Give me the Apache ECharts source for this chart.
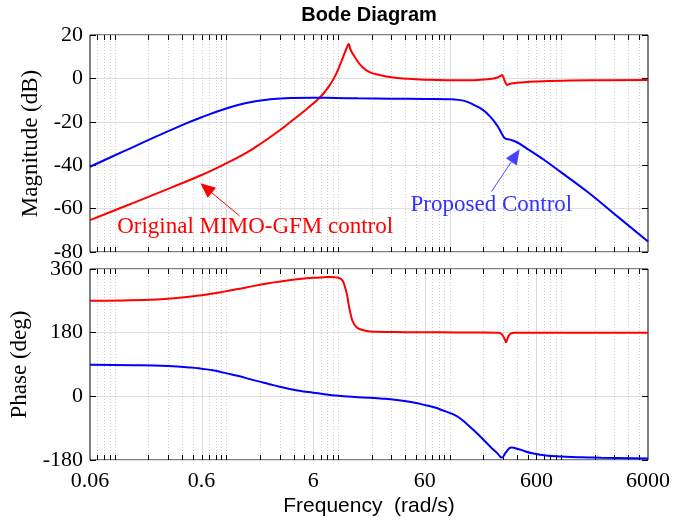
<!DOCTYPE html>
<html><head><meta charset="utf-8">
<script src="https://cdn.jsdelivr.net/npm/echarts@6/dist/echarts.min.js"></script>
<style>html,body{margin:0;padding:0;background:#fff}#c{width:692px;height:523px}</style>
</head><body><div id="c"></div>
<script>
// ---------- data (frequency in rad/s) ----------
const magRedFreq = [0.06,0.0951,0.151,0.239,0.379,0.6,0.951,1.507,1.897,2.39,3.01,3.79,4.77,6.0,6.73,7.55,8.47,9.51,10.67,11.44,11.97,12.47,12.97,14.1,16.4,19.0,23.9,30.1,42.5,60,95,151,190,239,268,287,294,301,311,322,330,345,379,425,600,1197,2390,6000];
const magRed     = [-65.3,-61.2,-57.1,-53.0,-48.8,-44.5,-39.7,-34.3,-31.1,-27.6,-23.9,-19.9,-15.8,-11.6,-9.3,-6.5,-3.0,1.5,7.5,11.5,14.0,15.9,13.2,10,5.4,3.0,1.5,0.5,-0.2,-0.6,-0.8,-0.8,-0.6,-0.2,0.4,1.2,1.6,1.0,-1.0,-2.6,-3.0,-2.6,-2.2,-1.9,-1.4,-1.0,-0.85,-0.7];

const magBlueFreq = [0.06,0.0951,0.151,0.239,0.379,0.6,0.951,1.507,2.39,3.79,6.0,9.51,15.1,30,60,100,120,142,170,200,225,246,265,282,300,313,330,346,397,450,523,700,1000,1740,3350,6000];
const magBlue     = [-40.7,-36.0,-31.3,-26.6,-22.1,-17.9,-14.2,-11.3,-9.7,-9.0,-8.9,-9.05,-9.2,-9.35,-9.45,-9.6,-9.9,-10.7,-12.5,-14.6,-17,-19.2,-21.5,-23.8,-26.3,-27.6,-28.0,-28.2,-29.3,-31.0,-33.2,-37.5,-43.3,-52.5,-64.5,-75.2];

const phRedFreq = [0.06,0.12,0.239,0.379,0.6,0.951,1.507,2.39,3.79,6.0,7.55,8.5,9.5,10.4,11.0,11.4,12.0,12.5,13.0,13.6,14.5,15.6,18,21.5,40,84.8,150,270,290,305,315,321,328,340,355,380,1000,6000];
const phRed     = [270,271,274,278.5,286,296,308,319.5,329,335,336.8,337.5,336.3,333.7,327,315,290,258,232,211,197,190.4,185,182.8,181.5,181,180.5,180,177,168,158,153,160,172,178,180,180,180];

const phBlueFreq = [0.06,0.151,0.30,0.477,0.6,0.755,0.951,1.197,1.507,1.897,2.39,3.01,3.79,4.77,6.0,7.55,9.51,15.1,23.9,33.7,47.7,60,75.5,84.8,107,124,147,176,232,270,293,323,358,418,550,757,1545,2270,6000];
const phBlue     = [89,88,85.5,81.5,78,73.5,67,59.5,51.5,43,35,27,20,14.5,10.3,6,2.2,-2.5,-6.2,-10.3,-17.5,-24.5,-32.5,-38.6,-50.5,-62,-82,-104.5,-142.4,-162,-173,-156.5,-145,-149.7,-161,-167.8,-172.5,-173.4,-176];

const xTickLabels = ['0.06','0.6','6','60','600','6000'];
const magTicks = {min:-80, max:20, step:20};
const phTicks  = {min:-180, max:360, step:180};
const topMajorGrid = [1, 100];
const botMajorGrid = [0.6, 6, 60, 600];

// annotations [freq, dB]: arrow tail -> tip
const redArrow  = {from:[1.315,-63.4], to:[0.585,-48.3]};
const blueArrow = {from:[237,-52.2], to:[425,-32.7]};
const redLabel  = {at:[1.812,-68.5], text:'Original MIMO-GFM control'};
const blueLabel = {at:[237,-58.3], text:'Proposed Control'};

// ---------- helpers ----------
const F0 = 0.06;
const lx = f => Math.log10(f / F0);
const pts = (fs, vs) => fs.map((f,i)=>[lx(f), vs[i]]);
const minorVals = [];
for (let k=-2;k<=3;k++) for (let n=1;n<=9;n++){ const v=+(n*Math.pow(10,k)).toPrecision(6); if(v>0.0601 && v<5999) minorVals.push(v); }
function gridData(majors){
  const all = minorVals.slice();
  majors.forEach(m=>{ if(!all.some(v=>Math.abs(v-m)/m<1e-6)) all.push(m); });
  return all.map(v=>[lx(v), majors.some(m=>Math.abs(v-m)/m<1e-6)?1:0]);
}
function gridSeries(xi, yi, yr, majors){
  return {
    type:'custom', xAxisIndex:xi, yAxisIndex:yi, silent:true, z:1, clip:false,
    data: gridData(majors),
    renderItem(params, api){
      const x = api.value(0), major = api.value(1);
      const p0 = api.coord([x, yr.min]), p1 = api.coord([x, yr.max]);
      const px = Math.round(p0[0]) + 0.5;
      const y0 = Math.round(p0[1]), y1 = Math.round(p1[1]);
      return {type:'group', children:[
        {type:'line', shape:{x1:px,y1:y0,x2:px,y2:y1}, style:{stroke: major?'#dcdcdc':'#cccccc', lineWidth:1, lineDash: major?null:[1,2]}},
        {type:'line', shape:{x1:px,y1:y0,x2:px,y2:y0-5}, style:{stroke:'#000', lineWidth:1}},
        {type:'line', shape:{x1:px,y1:y1,x2:px,y2:y1+5}, style:{stroke:'#000', lineWidth:1}}
      ]};
    }
  };
}
function arrowSeries(arrow, lineColor, headColor){
  return {
    type:'custom', xAxisIndex:0, yAxisIndex:0, silent:true, z:5, clip:false,
    data:[[lx(arrow.from[0]), arrow.from[1], lx(arrow.to[0]), arrow.to[1]]],
    renderItem(params, api){
      const a = api.coord([api.value(0), api.value(1)]);
      const b = api.coord([api.value(2), api.value(3)]);
      const dx = b[0]-a[0], dy = b[1]-a[1], L = Math.hypot(dx,dy);
      const ux = dx/L, uy = dy/L, nx = -uy, ny = ux;
      const hl = 15, hw = 6.5;
      const bx = b[0]-ux*hl, by = b[1]-uy*hl;
      return {type:'group', children:[
        {type:'line', shape:{x1:a[0],y1:a[1],x2:bx,y2:by}, style:{stroke:lineColor, lineWidth:1}},
        {type:'polygon', shape:{points:[[b[0],b[1]],[bx+nx*hw,by+ny*hw],[bx-nx*hw,by-ny*hw]]}, style:{fill:headColor}}
      ]};
    }
  };
}

const SERIF = '"Liberation Serif","Times New Roman",serif';
const SANS = '"Liberation Sans",Arial,sans-serif';

const grids = [
  {left:90, top:35, width:558, height:217, show:true, borderColor:'#000', borderWidth:1, backgroundColor:'transparent'},
  {left:90, top:269, width:558, height:191, show:true, borderColor:'#000', borderWidth:1, backgroundColor:'transparent'}
];
function xAx(gi, showLabel){
  return {type:'value', gridIndex:gi, min:0, max:5, interval:1,
    axisLine:{show:false}, axisTick:{show:false}, splitLine:{show:false},
    axisLabel:{show:showLabel, margin:10, color:'#000', fontFamily:SERIF, fontSize:22,
      formatter: v => xTickLabels[Math.round(v)]},
    name: showLabel ? 'Frequency  (rad/s)' : '', nameLocation:'middle', nameGap:36,
    nameTextStyle:{fontFamily:SANS, fontSize:21, color:'#000'}};
}
function yAx(gi, r, pos, name, gap){
  const left = pos==='left';
  return {type:'value', gridIndex:gi, position:pos, min:r.min, max:r.max, interval:r.step,
    axisLine:{show:false}, axisTick:{show:true, inside:true, length:6, lineStyle:{color:'#000'}},
    splitLine:{show:left, lineStyle:{color:'#e0e0e0', width:1}},
    axisLabel:{show:left, margin:7, color:'#000', fontFamily:SERIF, fontSize:22},
    name: left?name:'', nameLocation:'middle', nameGap:gap, nameRotate:90,
    nameTextStyle:{fontFamily:SERIF, fontSize:23, color:'#000'}};
}
const lineS = (xi, yi, d, c) => ({type:'line', xAxisIndex:xi, yAxisIndex:yi, data:d, showSymbol:false, smooth:0.5, z:3,
  lineStyle:{color:c, width:2}, itemStyle:{color:c}});

const redMag = lineS(0,0,pts(magRedFreq,magRed),'#ff0000');
redMag.markPoint = {silent:true, animation:false, symbol:'rect', symbolSize:1, itemStyle:{color:'rgba(0,0,0,0)'},
  label:{show:true, position:'inside', color:'#ff0000', fontFamily:SERIF, fontSize:23, formatter:redLabel.text},
  data:[{coord:[lx(redLabel.at[0]),redLabel.at[1]]}]};
const blueMag = lineS(0,0,pts(magBlueFreq,magBlue),'#0000ff');
blueMag.markPoint = {silent:true, animation:false, symbol:'rect', symbolSize:1, itemStyle:{color:'rgba(0,0,0,0)'},
  label:{show:true, position:'inside', color:'#3333ff', fontFamily:SERIF, fontSize:23, formatter:blueLabel.text},
  data:[{coord:[lx(blueLabel.at[0]),blueLabel.at[1]]}]};

const option = {
  animation:false,
  backgroundColor:'#fff',
  graphic:[{type:'text', x:369, y:15, style:{text:'Bode Diagram', textAlign:'center', textVerticalAlign:'middle', font:'bold 20px '+SANS, fill:'#000'}}],
  grid: grids,
  xAxis:[xAx(0,false), xAx(1,true)],
  yAxis:[yAx(0,magTicks,'left','Magnitude (dB)',40), yAx(0,magTicks,'right','',0),
         yAx(1,phTicks,'left','Phase (deg)',52), yAx(1,phTicks,'right','',0)],
  series:[
    gridSeries(0,0,magTicks,topMajorGrid),
    gridSeries(1,2,phTicks,botMajorGrid),
    redMag, blueMag,
    lineS(1,2,pts(phRedFreq,phRed),'#ff0000'),
    lineS(1,2,pts(phBlueFreq,phBlue),'#0000ff'),
    arrowSeries(redArrow,'#ff0000','#ff0000'),
    arrowSeries(blueArrow,'#4a4aff','#4444ff')
  ]
};
const chart = echarts.init(document.getElementById('c'), null, {renderer:'canvas'});
chart.setOption(option);
</script></body></html>
